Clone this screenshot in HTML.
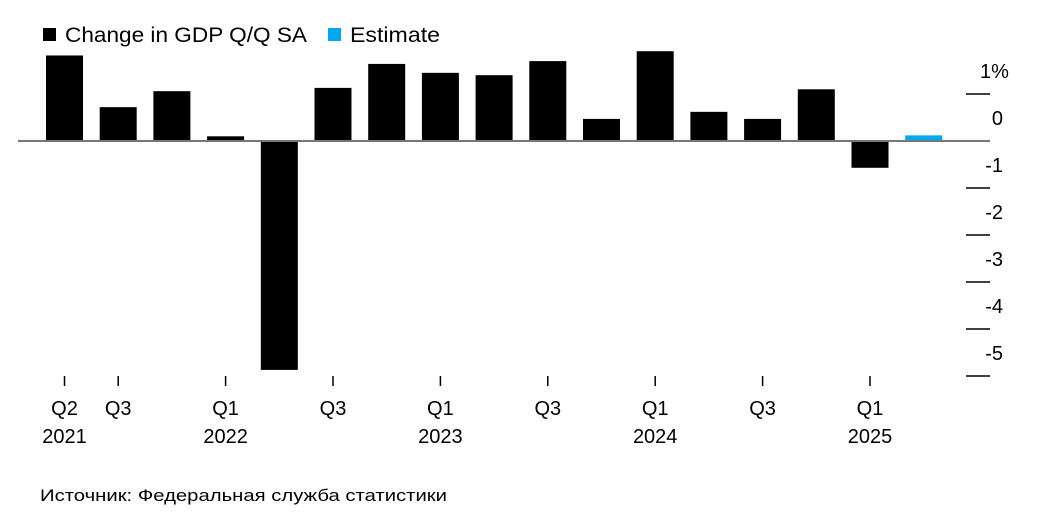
<!DOCTYPE html>
<html><head><meta charset="utf-8"><style>
body{margin:0;background:#fff;width:1056px;height:517px;overflow:hidden;font-family:"Liberation Sans","Noto Sans CJK SC",sans-serif}
</style></head><body>
<svg id="c" width="1056" height="517" style="position:absolute;left:0;top:0">
<g>
<rect x="43" y="28" width="13" height="13" fill="#000"/>
<text x="65" y="42" font-size="21" textLength="242" lengthAdjust="spacingAndGlyphs" fill="#000">Change in GDP Q/Q SA</text>
<rect x="328" y="28" width="13" height="13" fill="#00a8f0"/>
<text x="350" y="42" font-size="21" textLength="90" lengthAdjust="spacingAndGlyphs" fill="#000">Estimate</text>
</g>
<text x="40" y="501" font-size="17" textLength="407" lengthAdjust="spacingAndGlyphs" fill="#000">Источник: Федеральная служба статистики</text>
</svg>
<script>
const values=[1.82,0.72,1.06,0.1,-4.87,1.13,1.64,1.45,1.4,1.7,0.47,1.91,0.62,0.47,1.1,-0.57,0.12];
const isEstimate=[0,0,0,0,0,0,0,0,0,0,0,0,0,0,0,0,1];
const yTicks=[1,0,-1,-2,-3,-4,-5];
const yTickLabels=["1%","0","-1","-2","-3","-4","-5"];
const xLabelIdx=[0,1,3,5,7,9,11,13,15];
const xLabelQ=["Q2","Q3","Q1","Q3","Q1","Q3","Q1","Q3","Q1"];
const xLabelYear=["2021","","2022","","2023","","2024","","2025"];
const NS="http://www.w3.org/2000/svg";
const svg=document.getElementById('c');
const y=v=>141-v*47;
const xL=i=>46+i*53.7;
const bw=37;
function mk(t,a){const e=document.createElementNS(NS,t);for(const k in a)e.setAttribute(k,a[k]);svg.appendChild(e);return e;}
values.forEach((v,i)=>{
 const r=mk('rect',{x:xL(i),y:Math.min(y(v),y(0)),width:bw,height:Math.abs(y(v)-y(0)),fill:isEstimate[i]?'#00a8f0':'#000'});
 
 
});
const z=mk('line',{x1:18,x2:990,y1:y(0),y2:y(0),stroke:'#777','stroke-width':2});


yTicks.forEach((t,i)=>{
 if(t!==0){const l=mk('line',{x1:966,x2:990,y1:y(t),y2:y(t),stroke:'#000','stroke-width':1.5});
 
 }
 const tx=mk('text',{x:i===0?980:1003,y:y(t)-16,'font-size':20,fill:'#000','text-anchor':i===0?'start':'end'});
 tx.textContent=yTickLabels[i];
 
 
});
xLabelIdx.forEach((idx,k)=>{
 const cx=xL(idx)+bw/2;
 const l=mk('line',{x1:cx,x2:cx,y1:376,y2:386,stroke:'#000','stroke-width':1.5});
 
 
 const q=mk('text',{x:cx,y:415,'font-size':20,'text-anchor':'middle',fill:'#000'});
 q.textContent=xLabelQ[k];
 
 
 if(xLabelYear[k]){const yr=mk('text',{x:cx,y:443,'font-size':20,'text-anchor':'middle',fill:'#000'});
 yr.textContent=xLabelYear[k];
 
 }
});
</script>
</body></html>
